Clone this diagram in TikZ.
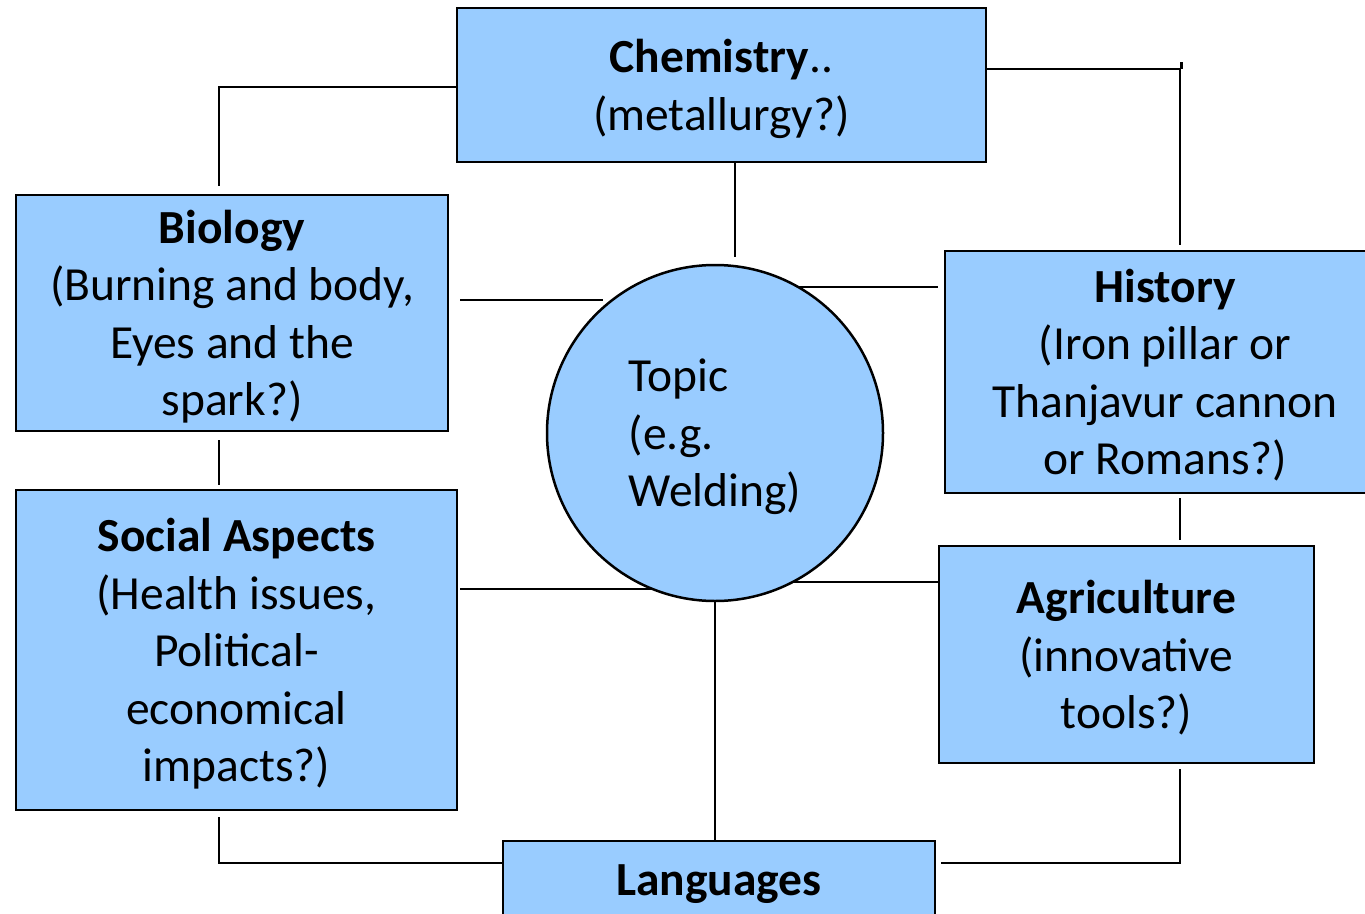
\documentclass[tikz,border=0pt]{standalone}
\usepackage{fontspec}
\setmainfont{Carlito}
\usepackage{xcolor}
\usepackage{tikz}
\usetikzlibrary{calc, backgrounds}
\definecolor{skyfill}{RGB}{153,204,255}

\begin{document}
\begin{tikzpicture}[x=1pt, y=-1pt]
\tikzstyle{subject} = [rectangle, draw=black, line width=2.5pt, fill=skyfill, align=center, inner sep=0pt, text depth=0pt, font=\fontsize{47.5}{57.5}\selectfont]
\tikzstyle{topic} = [circle, draw=black, line width=2.5pt, fill=skyfill, align=left, inner sep=0pt, text depth=0pt, minimum size=336pt, font=\fontsize{47.5}{57.5}\selectfont]
\tikzstyle{link} = [line width=2.5pt]

\useasboundingbox (0,0) rectangle (1365,913);

% Subjects
\node (chem) [subject, minimum width=529pt, minimum height=154pt] at (721.5,85) {\textbf{Chemistry}..\\(metallurgy?)};
\node (bio) [subject, minimum width=432pt, minimum height=236pt] at (232,313) {\textbf{Biology}\\(Burning and body,\\Eyes and the\\spark?)};
\node (hist) [subject, minimum width=440pt, minimum height=242pt] at (1165,372) {\textbf{History}\\(Iron pillar or\\Thanjavur cannon\\or Romans?)};
\node (social) [subject, minimum width=441pt, minimum height=320pt] at (236.5,650) {\textbf{Social Aspects}\\(Health issues,\\Political-\\economical\\impacts?)};
\node (agri) [subject, minimum width=375pt, minimum height=217pt] at (1126.5,654.5) {\textbf{Agriculture}\\(innovative\\tools?)};
\node (lang) [subject, minimum width=432pt, minimum height=78pt] at (719,880) {\textbf{Languages}};

% Centre
\node (welding) [topic] at (715,433) {Topic\\(e.g.\\Welding)};

% Connections
\begin{scope}[on background layer]
\draw [link] ($(chem.west)+(0,2)$) -| ($(bio.north)+(-13,-8)$);
\draw [link] ($(chem.east)+(0,-16)$) -| ($(hist.north)+(15,-5)$);
\draw [link] ($(chem.east)+(194,-16)$) -- ($(chem.east)+(194,-23)$);
\draw [link] ($(chem.south)+(13.5,0)$) -- ($(welding.north)+(20,-7)$);
\draw [link] ($(bio.east)+(11,-13)$) -- ($(welding.center)+(-112,-133)$);
\draw [link] ($(welding.center)+(0,-146)$) -- ($(hist.west)+(-6,-85)$);
\draw [link] ($(bio.south)+(-13,8)$) -- ($(social.north)+(-17.5,-4)$);
\draw [link] ($(hist.south)+(15,4)$) -- ($(agri.north)+(53.5,-5)$);
\draw [link] ($(social.east)+(2,-61)$) -- ($(welding.center)+(0,156)$);
\draw [link] ($(welding.center)+(0,149)$) -- ($(agri.west)+(0,-72.5)$);
\draw [link] (welding.south) -- ($(lang.north)+(-4,2)$);
\draw [link] ($(social.south)+(-17.5,6)$) |- ($(lang.west)+(0,-17)$);
\draw [link] ($(agri.south)+(53.5,5)$) |- ($(lang.east)+(5,-17)$);
\end{scope}

\end{tikzpicture}
\end{document}
